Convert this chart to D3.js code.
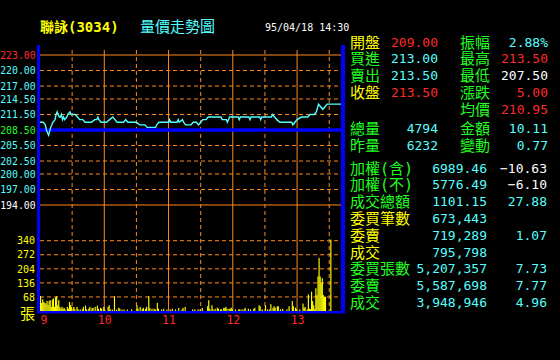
<!DOCTYPE html>
<html>
<head>
<meta charset="utf-8">
<script src="https://cdn.jsdelivr.net/npm/d3@7/dist/d3.min.js"></script>
<style>
body { margin: 0; background: #000; }
svg { display: block; }
</style>
</head>
<body>
<svg width="560" height="360"></svg>
<script>
// 聯詠(3034) 量價走勢圖 95/04/18

// --- data ---
// minutes after 09:00 and trade price
const priceMinutes = [0, 3, 5, 6, 8, 10, 12, 14, 15, 16, 18, 19, 20, 21, 22, 23, 25, 26, 28, 29, 31, 33, 35, 37, 40, 42,
  48, 51, 53, 54, 55, 57, 60, 62, 65, 68, 70, 72, 78, 80, 82, 90, 93, 98, 100, 108, 109, 111, 120, 121, 122, 128, 129,
  130, 133, 134, 136, 141, 143, 146, 148, 150, 152, 155, 157, 169, 170, 174, 175, 177, 185, 186, 187, 195, 196, 197,
  205, 206, 207, 216, 217, 219, 221, 224, 235, 236, 238, 240, 244, 250, 252, 256, 258, 260, 262, 264, 266, 268, 281]
const prices = [210, 210, 209.5, 208.5, 207.5, 209, 210, 210.5, 211.5, 212, 211, 211, 211.5, 210.5, 211, 210.5, 211, 211.5, 212, 211.5, 211.5, 211.5, 211, 210.5, 210.5, 210,
  210, 210.5, 210.5, 211, 210.5, 210, 210, 210, 210.5, 211, 210.5, 210, 210, 210.5, 210, 210, 209.5, 209.5, 209, 209, 209.5, 210, 210, 210.5, 210, 210, 210.5,
  210, 210.5, 210, 209.5, 209.5, 210, 210, 209.5, 210, 210.5, 210.5, 211, 211, 210.5, 210.5, 210, 211, 211, 210.5, 211, 211, 210.5, 211,
  211, 210.5, 211, 211, 211.5, 211, 210.5, 210, 210, 209.5, 210, 210.5, 211, 211, 211.5, 211.5, 212, 213.5, 213, 212.5, 213, 213.5, 213.5]

// minutes after 09:00 and volume (張)
const volMinutes = [0, 1, 2, 3, 4, 5, 6, 7, 8, 9, 10, 11, 12, 13, 14, 15, 16, 17, 18, 19, 20, 21, 22, 23, 25, 26, 27, 28, 29,
  31, 32, 34, 35, 37, 39, 40, 42, 43, 45, 46, 48, 49, 51, 53, 54, 56, 57, 59, 60, 63, 64, 65, 67, 69, 71, 73, 74, 76, 78,
  81, 85, 90, 91, 93, 95, 96, 98, 99, 101, 102, 104, 106, 107, 109, 110, 113, 115, 118, 121, 123, 126, 129, 132, 133, 135,
  142, 144, 147, 149, 151, 156, 157, 158, 160, 161, 163, 165, 166, 168, 169, 171, 172, 173, 174, 176, 177, 178, 179, 182,
  185, 186, 188, 190, 191, 194, 196, 199, 200, 204, 205, 207, 210, 212, 214, 215, 217, 218, 219, 221, 222, 224, 226, 230,
  232, 235, 236, 238, 239, 242, 245, 246, 247, 249, 250, 251, 252, 253, 254, 255, 256, 257, 258, 259, 260, 261, 262, 263,
  264, 265, 266, 271]
const volumes = [72, 39, 56, 44, 39, 36, 49, 28, 49, 52, 20, 55, 61, 20, 66, 72, 28, 52, 20, 11, 20, 11, 15, 7, 20, 11, 44, 28, 20,
  20, 11, 20, 8, 8, 8, 20, 26, 8, 11, 20, 15, 15, 20, 26, 11, 15, 11, 20, 7, 20, 28, 8, 7, 72, 7, 16, 11, 7, 7,
  7, 8, 28, 11, 20, 11, 15, 11, 20, 72, 15, 11, 11, 8, 39, 11, 8, 11, 7, 8, 11, 8, 15, 7, 15, 20,
  8, 8, 8, 8, 15, 23, 52, 11, 28, 8, 11, 16, 11, 8, 8, 15, 15, 20, 11, 11, 11, 16, 8, 8,
  8, 8, 8, 8, 15, 11, 8, 11, 15, 28, 23, 8, 28, 8, 8, 33, 15, 23, 16, 23, 23, 8, 11, 8,
  23, 48, 23, 16, 8, 8, 36, 16, 20, 8, 80, 11, 8, 93, 48, 28, 11, 110, 77, 167, 257, 167, 134, 159,
  77, 69, 69, 345]

const priceTicks = [223, 220, 217, 214.5, 211.5, 208.5, 205.5, 202.5, 200, 197, 194]
const volTicks = [340, 272, 204, 136, 68]
const hourTicks = [0, 60, 120, 180, 240]
const hourLabels = ['9', '10', '11', '12', '13']
const halfHourTicks = [30, 90, 150, 210, 270]
const prevClose = 208.5

// right panel
const quoteNames = ['開盤', '買進', '賣出', '收盤']
const quoteValues = ['209.00', '213.00', '213.50', '213.50']
const statNames = ['振幅', '最高', '最低', '漲跌', '均價']
const statValues = ['2.88%', '213.50', '207.50', '5.00', '210.95']
const lotNames = ['總量', '昨量']
const lotValues = ['4794', '6232']
const amtNames = ['金額', '變動']
const amtValues = ['10.11', '0.77']
const marketNames = ['加權(含)', '加權(不)', '成交總額', '委買筆數', '委賣', '成交', '委買張數', '委賣', '成交']
const marketValues = ['6989.46', '5776.49', '1101.15', '673,443', '719,289', '795,798', '5,207,357', '5,587,698', '3,948,946']
const marketChanges = ['−10.63', '−6.10', '27.88', '', '1.07', '', '7.73', '7.77', '4.96']

// --- styles ---
const RED = '#ff2a2a', CYAN = '#5ff', GREEN = '#2f2', YELLOW = '#ff0', WHITE = '#fff'
const ORANGE = '#ff8a1a', BLUE = '#0000ff'
const MONO = '"DejaVu Sans Mono", monospace'
const CJK = '"DejaVu Sans Mono", "Noto Sans CJK TC", sans-serif'

const svg = d3.select('svg')

// scales
const x = d3.scaleLinear().domain([0, 281]).range([40, 341])
const yP = d3.scaleLinear().domain([194, 223]).range([205, 55])
const yV = d3.scaleLinear().domain([0, 340]).range([311, 240.7])

// vertical grid
svg.append('g').selectAll('line')
  .data(hourTicks.slice(1))
  .enter().append('line')
  .attr('x1', d => x(d)).attr('x2', d => x(d))
  .attr('y1', 50).attr('y2', yV(0))
  .attr('stroke', ORANGE).attr('stroke-width', 1)
svg.append('g').selectAll('line')
  .data(halfHourTicks)
  .enter().append('line')
  .attr('x1', d => x(d)).attr('x2', d => x(d))
  .attr('y1', 50).attr('y2', yV(0))
  .attr('stroke', ORANGE).attr('stroke-dasharray', '4,3')

// horizontal price grid
svg.append('g').selectAll('line')
  .data(priceTicks.filter(d => d !== prevClose))
  .enter().append('line')
  .attr('x1', x(0)).attr('x2', x.range()[1])
  .attr('y1', d => yP(d)).attr('y2', d => yP(d))
  .attr('stroke', ORANGE)
  .attr('stroke-dasharray', d => (d === 223 || d === 194) ? null : '4,3')

// horizontal volume grid
svg.append('g').selectAll('line')
  .data(volTicks)
  .enter().append('line')
  .attr('x1', x(0)).attr('x2', x.range()[1])
  .attr('y1', d => yV(d)).attr('y2', d => yV(d))
  .attr('stroke', ORANGE).attr('stroke-dasharray', '4,3')

// previous close
svg.append('line')
  .attr('x1', x(0)).attr('x2', x.range()[1])
  .attr('y1', yP(prevClose)).attr('y2', yP(prevClose))
  .attr('stroke', BLUE).attr('stroke-width', 3.3)

// volume bars
svg.append('g').selectAll('rect')
  .data(volMinutes)
  .enter().append('rect')
  .attr('x', d => x(d))
  .attr('y', (d, i) => yV(volumes[i]))
  .attr('width', 1.15)
  .attr('height', (d, i) => yV(0) - yV(volumes[i]))
  .attr('fill', YELLOW)

// price line
const line = d3.line()
  .x(d => x(d))
  .y((d, i) => yP(prices[i]))
svg.append('path')
  .datum(priceMinutes)
  .attr('d', line)
  .attr('fill', 'none')
  .attr('stroke', CYAN)
  .attr('stroke-width', 1.4)

// blue frame
svg.append('rect').attr('x', 37).attr('y', 45).attr('width', 3).attr('height', 268).attr('fill', BLUE)
svg.append('rect').attr('x', 341).attr('y', 45).attr('width', 4).attr('height', 268).attr('fill', BLUE)
svg.append('rect').attr('x', 37).attr('y', yV(0)).attr('width', 308).attr('height', 2.4).attr('fill', BLUE)

// price axis labels
const priceColor = d => d === 223 ? RED : d === 194 ? WHITE : d === prevClose ? GREEN : CYAN
const pAxis = svg.append('g')
  .attr('transform', 'translate(35.6,0)')
  .call(d3.axisLeft(yP).tickValues(priceTicks).tickFormat(d3.format('.2f')).tickSize(0).tickPadding(0))
pAxis.select('.domain').remove()
pAxis.selectAll('text')
  .attr('fill', priceColor)
  .style('font', '9.8px ' + MONO)

// volume axis labels
const vAxis = svg.append('g')
  .attr('transform', 'translate(35,0)')
  .call(d3.axisLeft(yV).tickValues(volTicks).tickSize(0).tickPadding(0))
vAxis.select('.domain').remove()
vAxis.selectAll('text')
  .attr('fill', YELLOW)
  .style('font', '10px ' + MONO)
svg.append('text').text('張')
  .attr('x', 35).attr('y', 319).attr('text-anchor', 'end')
  .attr('fill', YELLOW).style('font', '15px "Noto Sans CJK TC"')

// time axis labels
const tAxis = svg.append('g')
  .attr('transform', `translate(0,${yV(0) + 3})`)
  .call(d3.axisBottom(x).tickValues(hourTicks).tickFormat((d, i) => hourLabels[i]).tickSize(0).tickPadding(2))
tAxis.select('.domain').remove()
tAxis.selectAll('text')
  .attr('fill', RED)
  .style('font', '11.5px ' + MONO)
  .attr('text-anchor', (d, i) => i === 0 ? 'start' : 'middle')

// title
svg.append('text').text('聯詠(3034)')
  .attr('x', 40).attr('y', 32)
  .attr('fill', YELLOW).style('font', 'bold 14px ' + CJK)
svg.append('text').text('量價走勢圖')
  .attr('x', 140).attr('y', 32)
  .attr('fill', CYAN).style('font', '15px "Noto Sans CJK TC"')
svg.append('text').text('95/04/18 14:30')
  .attr('x', 265).attr('y', 31)
  .attr('fill', WHITE).style('font', '10px ' + MONO)

// right panel
const panel = svg.append('g')
function label(px, py, str, color) {
  panel.append('text').text(str)
    .attr('x', px).attr('y', py + 5.5)
    .attr('fill', color).style('font', '15px ' + CJK)
}
function num(px, py, str, color) {
  panel.append('text').text(str)
    .attr('x', px).attr('y', py + 4.6)
    .attr('text-anchor', 'end')
    .attr('fill', color).style('font', '13px ' + MONO)
}
const rowY = i => 42 + i * 16.8
const quoteNameColors = [YELLOW, GREEN, GREEN, YELLOW]
const quoteValueColors = [RED, CYAN, CYAN, RED]
const statValueColors = [CYAN, RED, WHITE, RED, RED]
quoteNames.forEach((n, i) => {
  label(350, rowY(i), n, quoteNameColors[i])
  num(438, rowY(i), quoteValues[i], quoteValueColors[i])
})
statNames.forEach((n, i) => {
  label(460, rowY(i), n, GREEN)
  num(548, rowY(i), statValues[i], statValueColors[i])
})
lotNames.forEach((n, i) => {
  const yy = 128 + i * 17
  label(350, yy, n, GREEN)
  num(438, yy, lotValues[i], CYAN)
  label(460, yy, amtNames[i], GREEN)
  num(548, yy, amtValues[i], CYAN)
})
const marketNameColors = [GREEN, GREEN, GREEN, YELLOW, YELLOW, YELLOW, GREEN, GREEN, GREEN]
const marketChangeColors = [WHITE, WHITE, CYAN, CYAN, CYAN, CYAN, CYAN, CYAN, CYAN]
marketNames.forEach((n, i) => {
  const yy = 168 + i * 16.8
  label(350, yy, n, marketNameColors[i])
  num(487, yy, marketValues[i], CYAN)
  if (marketChanges[i]) num(547, yy, marketChanges[i], marketChangeColors[i])
})
</script>
</body>
</html>
